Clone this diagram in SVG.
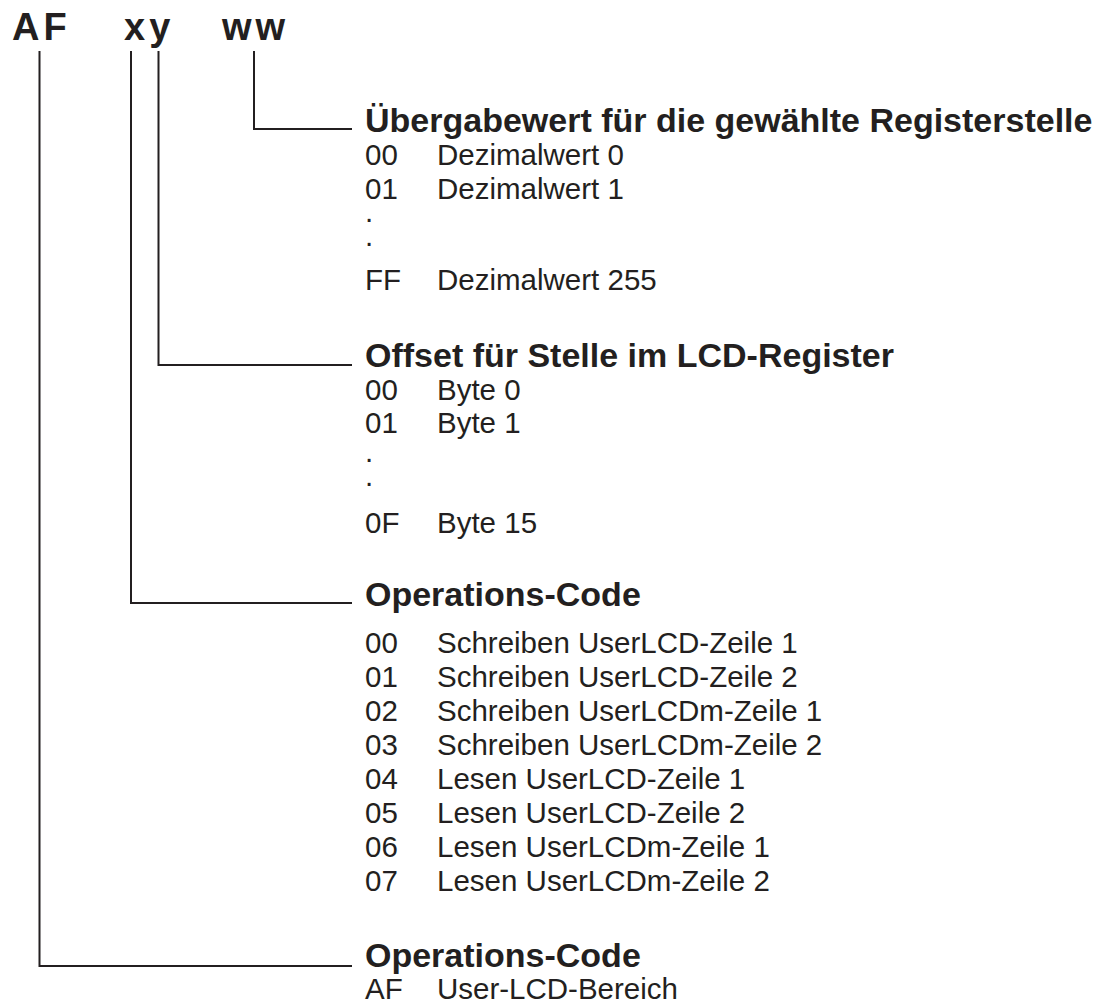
<svg xmlns="http://www.w3.org/2000/svg" width="1099" height="1006" viewBox="0 0 1099 1006">
<style>
text{font-family:"Liberation Sans",Arial,sans-serif;fill:#231f20}
.hdr{font-size:38px;font-weight:bold;letter-spacing:4px}
.h{font-size:34px;font-weight:bold}
.t{font-size:29.5px}
.conn path{fill:none;stroke:#231f20;stroke-width:2}
</style>
<rect width="1099" height="1006" fill="#ffffff"/>
<g id="header">
<text class="hdr" x="12" y="40">AF</text>
<text class="hdr" x="124" y="40">xy</text>
<text class="hdr" x="222" y="40">ww</text>
</g>
<g class="conn" id="connectors">
<path d="M254 51 V129 H352"/>
<path d="M158.5 51 V365 H352"/>
<path d="M131 51 V603 H352"/>
<path d="M39.5 51 V966 H352"/>
</g>
<g id="node-ww">
<text class="h" x="365" y="132">Übergabewert für die gewählte Registerstelle</text>
<text class="t" x="365" y="165">00</text><text class="t" x="437" y="165">Dezimalwert 0</text>
<text class="t" x="365" y="199">01</text><text class="t" x="437" y="199">Dezimalwert 1</text>
<text class="t" x="365" y="222">.</text>
<text class="t" x="365" y="246">.</text>
<text class="t" x="365" y="290">FF</text><text class="t" x="437" y="290">Dezimalwert 255</text>
</g>
<g id="node-y">
<text class="h" x="365" y="367">Offset für Stelle im LCD-Register</text>
<text class="t" x="365" y="400">00</text><text class="t" x="437" y="400">Byte 0</text>
<text class="t" x="365" y="433">01</text><text class="t" x="437" y="433">Byte 1</text>
<text class="t" x="365" y="462">.</text>
<text class="t" x="365" y="486">.</text>
<text class="t" x="365" y="533">0F</text><text class="t" x="437" y="533">Byte 15</text>
</g>
<g id="node-x">
<text class="h" x="365" y="606">Operations-Code</text>
<text class="t" x="365" y="653">00</text><text class="t" x="437" y="653">Schreiben UserLCD-Zeile 1</text>
<text class="t" x="365" y="687">01</text><text class="t" x="437" y="687">Schreiben UserLCD-Zeile 2</text>
<text class="t" x="365" y="721">02</text><text class="t" x="437" y="721">Schreiben UserLCDm-Zeile 1</text>
<text class="t" x="365" y="755">03</text><text class="t" x="437" y="755">Schreiben UserLCDm-Zeile 2</text>
<text class="t" x="365" y="789">04</text><text class="t" x="437" y="789">Lesen UserLCD-Zeile 1</text>
<text class="t" x="365" y="823">05</text><text class="t" x="437" y="823">Lesen UserLCD-Zeile 2</text>
<text class="t" x="365" y="857">06</text><text class="t" x="437" y="857">Lesen UserLCDm-Zeile 1</text>
<text class="t" x="365" y="891">07</text><text class="t" x="437" y="891">Lesen UserLCDm-Zeile 2</text>
</g>
<g id="node-af">
<text class="h" x="365" y="967">Operations-Code</text>
<text class="t" x="365" y="999">AF</text><text class="t" x="437" y="999">User-LCD-Bereich</text>
</g>
</svg>
